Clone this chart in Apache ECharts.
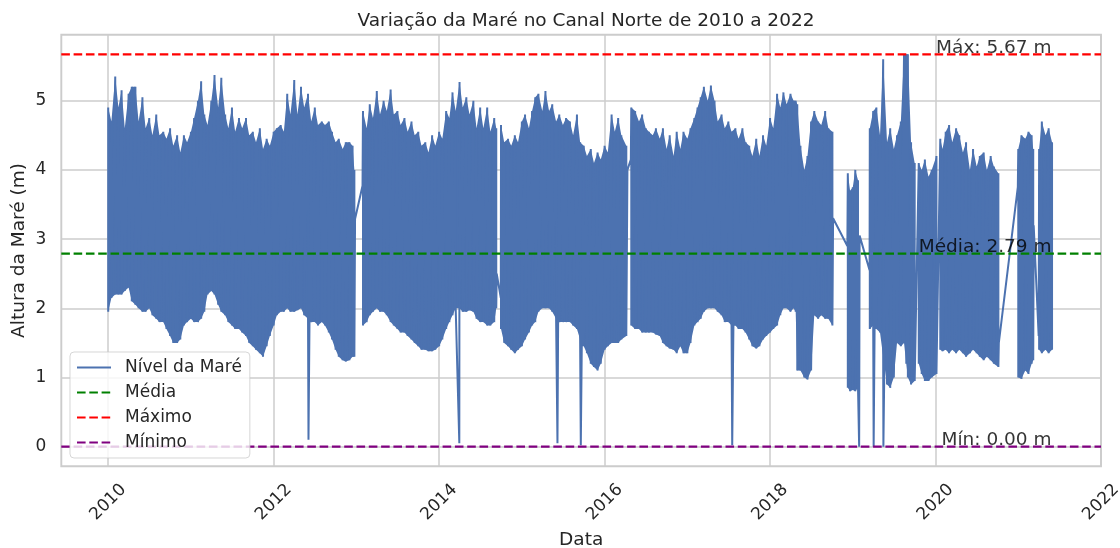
<!DOCTYPE html>
<html>
<head>
<meta charset="utf-8">
<script src="https://cdn.jsdelivr.net/npm/echarts@6/dist/echarts.min.js"></script>
<style>html,body{margin:0;padding:0;background:#fff;}#chart{width:1120px;height:548px;}</style>
</head>
<body>
<div id="chart"></div>
<script>
// ---- data ----
// envelope of the tide record, roughly every half month; '|' marks a gap in the record
const tideDates = [
 '2010-01-01','2010-01-15','2010-02-01','2010-02-15','2010-03-01','2010-03-15','2010-04-01','2010-04-15','2010-05-01','2010-05-15','2010-06-01','2010-06-15',
 '2010-07-01','2010-07-15','2010-08-01','2010-08-15','2010-09-01','2010-09-15','2010-10-01','2010-10-15','2010-11-01','2010-11-15','2010-12-01','2010-12-15',
 '2011-01-01','2011-01-15','2011-02-01','2011-02-15','2011-03-01','2011-03-15','2011-04-01','2011-04-15','2011-05-01','2011-05-15','2011-06-01','2011-06-15',
 '2011-07-01','2011-07-15','2011-08-01','2011-08-15','2011-09-01','2011-09-15','2011-10-01','2011-10-15','2011-11-01','2011-11-15','2011-12-01','2011-12-15',
 '2012-01-01','2012-01-15','2012-02-01','2012-02-15','2012-03-01','2012-03-15','2012-04-01','2012-04-15','2012-05-01','2012-05-15','2012-06-01','2012-06-15',
 '2012-07-01','2012-07-15','2012-08-01','2012-08-15','2012-09-01','2012-09-15','2012-10-01','2012-10-15','2012-11-01','2012-11-15','2012-12-01','2012-12-15','2012-12-23',
 '|',
 '2013-01-30','2013-02-15','2013-03-01','2013-03-15','2013-04-01','2013-04-15','2013-05-01','2013-05-15','2013-06-01','2013-06-15',
 '2013-07-01','2013-07-15','2013-08-01','2013-08-15','2013-09-01','2013-09-15','2013-10-01','2013-10-15','2013-11-01','2013-11-15','2013-12-01','2013-12-15',
 '2014-01-01','2014-01-15','2014-02-01','2014-02-15','2014-03-01','2014-03-15','2014-04-01','2014-04-15','2014-05-01','2014-05-15','2014-06-01','2014-06-15',
 '2014-07-01','2014-07-15','2014-08-01','2014-08-15','2014-09-01','2014-09-10',
 '|',
 '2014-10-01','2014-10-15','2014-11-01','2014-11-15','2014-12-01','2014-12-15',
 '2015-01-01','2015-01-15','2015-02-01','2015-02-15','2015-03-01','2015-03-15','2015-04-01','2015-04-15','2015-05-01','2015-05-15','2015-06-01','2015-06-15',
 '2015-07-01','2015-07-15','2015-08-01','2015-08-15','2015-09-01','2015-09-15','2015-10-01','2015-10-15','2015-11-01','2015-11-15','2015-12-01','2015-12-15',
 '2016-01-01','2016-01-15','2016-02-01','2016-02-15','2016-03-01','2016-03-15','2016-04-06',
 '|',
 '2016-04-28','2016-05-15','2016-06-01','2016-06-15','2016-07-01','2016-07-15','2016-08-01','2016-08-15','2016-09-01','2016-09-15','2016-10-01','2016-10-15',
 '2016-11-01','2016-11-15','2016-12-01','2016-12-15',
 '2017-01-01','2017-01-15','2017-02-01','2017-02-15','2017-03-01','2017-03-15','2017-04-01','2017-04-15','2017-05-01','2017-05-15','2017-06-01','2017-06-15',
 '2017-07-01','2017-07-15','2017-08-01','2017-08-15','2017-09-01','2017-09-15','2017-10-01','2017-10-15','2017-11-01','2017-11-15','2017-12-01','2017-12-15',
 '2018-01-01','2018-01-15','2018-02-01','2018-02-15','2018-03-01','2018-03-15','2018-04-01','2018-04-15','2018-04-24','2018-05-01','2018-05-15','2018-06-01','2018-06-15',
 '2018-07-01','2018-07-15','2018-08-01','2018-08-15','2018-09-01','2018-09-15','2018-10-03',
 '|',
 '2018-12-10','2018-12-20','2019-01-01','2019-01-12','2019-01-24',
 '|',
 '2019-03-17','2019-04-01','2019-04-15','2019-05-01','2019-05-15','2019-06-01','2019-06-15','2019-07-01','2019-07-15','2019-08-01','2019-08-15','2019-08-25',
 '2019-09-01','2019-09-15','2019-10-01',
 '|',
 '2019-10-19','2019-11-01','2019-11-15','2019-12-01','2019-12-15','2020-01-05',
 '|',
 '2020-01-22','2020-02-01','2020-02-15','2020-03-01','2020-03-15','2020-04-01','2020-04-15','2020-05-01','2020-05-15','2020-06-01','2020-06-15',
 '2020-07-01','2020-07-15','2020-08-01','2020-08-15','2020-09-01','2020-09-15','2020-10-05',
 '|',
 '2021-01-01','2021-01-15','2021-02-01','2021-02-15','2021-03-01','2021-03-08',
 '|',
 '2021-04-03','2021-04-15','2021-05-01','2021-05-15','2021-05-30'
];
const tideHigh = [
 4.9,4.7,5.35,4.9,5.15,4.6,5.1,5.2,5.2,4.7,5.05,4.6,
 4.75,4.5,4.8,4.5,4.55,4.45,4.6,4.35,4.5,4.25,4.5,4.4,
 4.55,4.75,5.0,5.28,4.8,4.65,5.0,5.37,4.9,5.33,4.8,4.6,
 4.9,4.55,4.75,4.6,4.75,4.5,4.55,4.4,4.6,4.3,4.45,4.35,
 4.55,4.6,4.65,4.55,5.1,4.8,5.3,4.8,5.2,4.9,5.1,4.7,
 4.9,4.65,4.7,4.65,4.7,4.55,4.4,4.45,4.3,4.4,4.4,4.35,4.0,
 null,
 4.85,4.6,4.95,4.75,5.14,4.8,5.0,4.85,5.16,4.8,
 4.85,4.65,4.75,4.55,4.7,4.5,4.55,4.35,4.4,4.25,4.5,4.35,
 4.55,4.45,4.85,4.75,5.12,4.85,5.27,4.9,5.05,4.8,5.0,4.6,
 4.9,4.6,4.9,4.55,4.75,4.6,
 null,
 4.65,4.4,4.45,4.35,4.5,4.4,
 4.7,4.8,4.6,4.85,5.05,5.1,4.85,5.14,4.85,4.95,4.7,4.8,
 4.65,4.75,4.7,4.5,4.8,4.4,4.35,4.2,4.3,4.1,4.25,4.15,
 4.35,4.25,4.8,4.55,4.75,4.5,4.35,
 null,
 4.9,4.85,4.7,4.8,4.6,4.55,4.5,4.6,4.45,4.6,4.3,4.5,
 4.2,4.55,4.3,4.55,
 4.45,4.6,4.75,4.9,5.05,5.2,5.0,5.22,5.0,4.7,4.8,4.6,
 4.7,4.55,4.6,4.45,4.6,4.4,4.35,4.2,4.45,4.2,4.5,4.35,
 4.75,4.6,5.1,4.9,5.12,4.95,5.1,5.0,5.0,4.95,4.35,4.0,4.2,
 4.7,4.85,4.7,4.65,4.85,4.6,4.55,
 null,
 3.95,3.7,3.75,4.0,3.85,
 null,
 4.6,4.85,4.9,4.5,5.6,4.4,4.6,4.3,4.5,4.7,5.67,5.67,
 5.67,4.4,4.1,
 null,
 4.1,4.0,4.15,3.9,4.0,4.2,
 null,
 4.45,4.3,4.55,4.65,4.4,4.6,4.5,4.25,4.4,4.0,4.3,
 4.05,4.2,4.25,4.0,4.2,4.05,3.95,
 null,
 4.3,4.5,4.45,4.55,4.5,4.3,
 null,
 4.3,4.7,4.5,4.6,4.4
];
const tideLow = [
 1.95,2.15,2.2,2.2,2.2,2.25,2.3,2.1,2.05,2.0,1.95,1.95,
 2.0,1.9,1.85,1.8,1.8,1.7,1.6,1.5,1.5,1.55,1.75,1.8,
 1.85,1.8,1.8,1.85,1.95,2.2,2.25,2.2,2.05,1.95,1.9,1.8,
 1.75,1.7,1.7,1.65,1.6,1.5,1.45,1.4,1.35,1.3,1.45,1.6,
 1.75,1.9,1.95,1.95,2.0,1.95,1.95,1.97,2.0,1.9,1.85,1.8,
 1.8,1.75,1.8,1.75,1.65,1.55,1.4,1.3,1.25,1.23,1.25,1.3,1.3,
 null,
 1.75,1.8,1.9,1.95,2.0,1.95,1.95,1.9,1.8,1.75,
 1.7,1.65,1.65,1.6,1.55,1.5,1.45,1.4,1.4,1.38,1.38,1.4,
 1.45,1.55,1.7,1.8,1.9,2.0,2.0,1.95,1.95,1.97,1.95,1.85,
 1.8,1.8,1.75,1.75,1.8,2.0,
 null,
 1.7,1.5,1.45,1.4,1.35,1.4,
 1.45,1.55,1.65,1.75,1.8,1.95,2.0,2.0,2.0,1.95,1.85,1.8,
 1.8,1.8,1.8,1.75,1.7,1.55,1.45,1.35,1.2,1.15,1.1,1.2,
 1.4,1.45,1.5,1.5,1.5,1.55,1.6,
 null,
 1.75,1.7,1.7,1.65,1.65,1.65,1.65,1.62,1.6,1.5,1.45,1.42,
 1.4,1.35,1.45,1.35,
 1.35,1.5,1.75,1.8,1.85,1.95,2.0,2.0,2.0,1.95,1.9,1.8,
 1.8,1.75,1.75,1.7,1.7,1.65,1.55,1.45,1.42,1.45,1.55,1.6,
 1.65,1.7,1.75,1.9,2.0,2.0,1.95,2.0,1.95,1.1,1.1,1.0,0.97,
 1.1,1.9,1.85,1.9,1.85,1.85,1.75,
 null,
 0.85,0.8,0.82,0.8,0.85,
 null,
 1.7,1.75,1.7,1.65,1.3,0.9,0.85,1.0,1.5,1.45,1.5,1.2,
 1.0,0.9,0.95,
 null,
 1.2,1.05,0.95,0.95,1.0,1.05,
 null,
 1.4,1.38,1.4,1.35,1.4,1.35,1.4,1.35,1.3,1.35,1.4,
 1.35,1.3,1.25,1.3,1.25,1.2,1.15,
 null,
 1.0,0.98,1.1,1.05,1.2,1.25,
 null,
 1.4,1.35,1.4,1.35,1.4
];
// single readings where the record jumps across a gap
const linkDates  = ['2012-12-26','2013-01-28','2014-09-12','2014-09-30','2016-04-11','2016-04-26','2018-10-06','2018-12-08','2019-01-31','2019-03-16','2020-10-07','2020-12-30','2021-03-10','2021-04-01'];
const linkValues = [3.29, 3.77, 2.5, 2.15, 4.0, 4.15, 3.3, 2.9, 3.05, 2.55, 1.5, 3.75, 3.2, 1.6];
// isolated readings that fall to (almost) zero
const dropDates  = ['2012-06-03','2014-03-31','2015-06-07','2015-09-18','2017-07-18','2019-01-29','2019-04-03','2019-05-16'];
const dropValues = [0.1, 0.05, 0.05, 0.02, 0.02, 0.0, 0.0, 0.0];
// summary statistics
const meanLevel = 2.79, maxLevel = 5.67, minLevel = 0.00;
// tick labels
const xTickYears = [2010, 2012, 2014, 2016, 2018, 2020, 2022];
const yTickValues = [0, 1, 2, 3, 4, 5];

// ---- chart ----
const tideColor = '#4c72b0';
const textColor = '#262626';
const FONT = 'DejaVu Sans';
const xMin = 2009.433, xMax = 2022.0, yMin = -0.2835, yMax = 5.9535;

function toYear(s) {
  const p = s.split('-').map(Number);
  const t0 = Date.UTC(p[0], 0, 1), t1 = Date.UTC(p[0] + 1, 0, 1);
  return p[0] + (Date.UTC(p[0], p[1] - 1, p[2]) - t0) / (t1 - t0);
}

const segments = [];
let cur = [];
tideDates.forEach((d, i) => {
  if (d === '|') { if (cur.length) segments.push(cur); cur = []; return; }
  cur.push([toYear(d), tideHigh[i], tideLow[i]]);
});
if (cur.length) segments.push(cur);

const linePts = [];
segments.forEach(seg => seg.forEach(p => { linePts.push([p[0], p[1]]); linePts.push([p[0], p[2]]); }));
linkDates.forEach((d, i) => linePts.push([toYear(d), linkValues[i]]));
dropDates.forEach((d, i) => linePts.push([toYear(d), dropValues[i]]));
linePts.sort((a, b) => a[0] - b[0]);

const lastDate = toYear(tideDates[tideDates.length - 1]);
const dash = [8.6, 3.7];

function hLine(name, value, color) {
  return {
    name: name, type: 'line', data: [[xMin, value], [xMax, value]],
    symbol: 'none', silent: true, z: 4,
    lineStyle: { color: color, width: 2.3, type: dash },
    itemStyle: { color: color }
  };
}

const chart = echarts.init(document.getElementById('chart'), null, { renderer: 'canvas' });
chart.setOption({
  animation: false,
  backgroundColor: '#ffffff',
  textStyle: { fontFamily: FONT },
  title: {
    text: 'Variação da Maré no Canal Norte de 2010 a 2022',
    left: 581, top: 7, textAlign: 'center',
    textStyle: { fontFamily: FONT, fontSize: 18.5, fontWeight: 'normal', color: textColor }
  },
  grid: { left: 61.3, right: 19, top: 34.7, bottom: 81.7, containLabel: false, outerBoundsMode: 'none',
    show: true, borderColor: '#cccccc', borderWidth: 1.9, backgroundColor: 'transparent' },
  legend: {
    orient: 'vertical', left: 70, top: 352, z: 20,
    data: ['Nível da Maré', 'Média', 'Máximo', 'Mínimo'],
    itemWidth: 34, itemHeight: 14, itemGap: 8,
    padding: [7, 8, 7, 6],
    itemStyle: { opacity: 0 },
    backgroundColor: 'rgba(255,255,255,0.8)', borderColor: 'rgba(204,204,204,0.8)', borderWidth: 1, borderRadius: 4,
    textStyle: { fontFamily: FONT, fontSize: 17, color: textColor, padding: [0, 0, 0, 9] }
  },
  xAxis: {
    type: 'value', min: xMin, max: xMax,
    name: 'Data', nameLocation: 'middle', nameGap: 59,
    nameTextStyle: { fontFamily: FONT, fontSize: 18.5, color: textColor },
    axisLine: { show: false },
    axisTick: { show: false, customValues: xTickYears },
    axisLabel: { customValues: xTickYears, rotate: 45, align: 'center', verticalAlign: 'middle', margin: 36,
      fontFamily: FONT, fontSize: 17, color: textColor, formatter: v => String(Math.round(v)) },
    splitLine: { show: true, lineStyle: { color: '#cccccc', width: 1.5 } }
  },
  yAxis: {
    type: 'value', min: yMin, max: yMax,
    name: 'Altura da Maré (m)', nameLocation: 'middle', nameGap: 33, nameRotate: 90, nameMoveOverlap: false,
    nameTextStyle: { fontFamily: FONT, fontSize: 18.5, color: textColor },
    axisLine: { show: false },
    axisTick: { show: false, customValues: yTickValues },
    axisLabel: { customValues: yTickValues, margin: 15, fontFamily: FONT, fontSize: 17, color: textColor, formatter: v => String(Math.round(v)) },
    splitLine: { show: true, lineStyle: { color: '#cccccc', width: 1.5 } }
  },
  series: [
    {
      name: 'band', type: 'custom', coordinateSystem: 'cartesian2d', silent: true, clip: true, z: 2,
      data: segments.map(seg => [seg[0][0], seg[0][2]]),
      renderItem: function (params, api) {
        const seg = segments[params.dataIndex];
        const top = seg.map(p => api.coord([p[0], p[1]]));
        const bot = seg.slice().reverse().map(p => api.coord([p[0], p[2]]));
        return { type: 'polygon', shape: { points: top.concat(bot) }, style: { fill: tideColor } };
      }
    },
    {
      name: 'Nível da Maré', type: 'line', data: linePts, symbol: 'none', silent: true, z: 3,
      lineStyle: { color: tideColor, width: 2 }, itemStyle: { color: tideColor }
    },
    hLine('Média', meanLevel, '#008000'),
    hLine('Máximo', maxLevel, '#ff0000'),
    hLine('Mínimo', minLevel, '#800080'),
    {
      name: 'annot', type: 'scatter', symbolSize: 1, silent: true, z: 6,
      itemStyle: { color: 'rgba(0,0,0,0)' },
      data: [
        { value: [lastDate, maxLevel], label: { formatter: 'Máx: ' + maxLevel.toFixed(2) + ' m' } },
        { value: [lastDate, meanLevel], label: { formatter: 'Média: ' + meanLevel.toFixed(2) + ' m' } },
        { value: [lastDate, minLevel], label: { formatter: 'Mín: ' + minLevel.toFixed(2) + ' m' } }
      ],
      label: { show: true, position: [0, 0], align: 'right', verticalAlign: 'bottom', offset: [0, 4],
        fontFamily: FONT, fontSize: 18.5, color: '#000000' }
    }
  ]
});
</script>
</body>
</html>
